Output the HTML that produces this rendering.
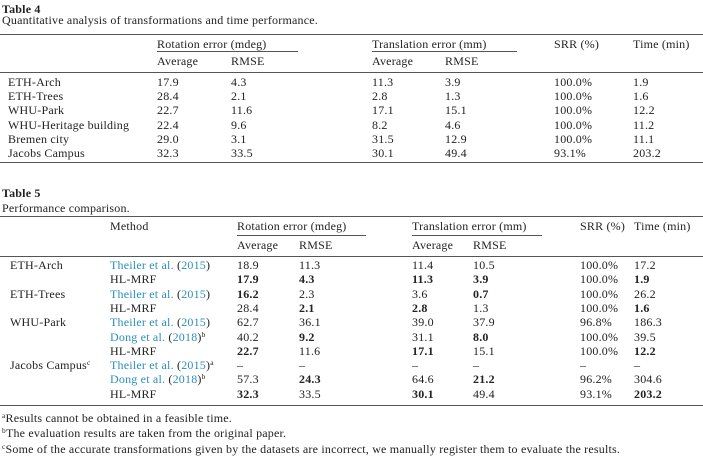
<!DOCTYPE html>
<html><head><meta charset="utf-8"><style>
body{margin:0;width:703px;height:463px;background:#fff;position:relative;overflow:hidden;font-family:"Liberation Serif",serif;font-size:12px;color:#222;letter-spacing:0.2px}
.t{position:absolute;line-height:14px;white-space:nowrap}
.b{font-weight:bold}
.l{color:#2a8fbd}
.r{position:absolute;height:1px;background:#555}
sup{font-size:7.5px;line-height:0;vertical-align:4px}
</style></head><body>
<div class="t b" style="left:2px;top:2px">Table 4</div>
<div class="t" style="left:2px;top:13px">Quantitative analysis of transformations and time performance.</div>
<div class="r" style="left:0;top:34px;width:703px"></div>
<div class="t" style="left:157px;top:37px">Rotation error (mdeg)</div>
<div class="t" style="left:372px;top:37px">Translation error (mm)</div>
<div class="t" style="left:554px;top:37px">SRR (%)</div>
<div class="t" style="left:633px;top:37px">Time (min)</div>
<div class="r" style="left:157px;top:51px;width:141px"></div>
<div class="r" style="left:372px;top:51px;width:145px"></div>
<div class="t" style="left:157px;top:54px">Average</div>
<div class="t" style="left:231px;top:54px">RMSE</div>
<div class="t" style="left:372px;top:54px">Average</div>
<div class="t" style="left:445px;top:54px">RMSE</div>
<div class="r" style="left:0;top:72px;width:703px"></div>
<div id="t4"></div>
<div class="r" style="left:0;top:162px;width:703px"></div>

<div class="t b" style="left:2px;top:186px">Table 5</div>
<div class="t" style="left:2px;top:201px">Performance comparison.</div>
<div class="r" style="left:0;top:216px;width:703px"></div>
<div class="t" style="left:110px;top:219px">Method</div>
<div class="t" style="left:237px;top:219px">Rotation error (mdeg)</div>
<div class="t" style="left:412px;top:219px">Translation error (mm)</div>
<div class="t" style="left:580px;top:219px">SRR (%)</div>
<div class="t" style="left:634px;top:219px">Time (min)</div>
<div class="r" style="left:237px;top:235px;width:129px"></div>
<div class="r" style="left:412px;top:235px;width:130px"></div>
<div class="t" style="left:237px;top:238px">Average</div>
<div class="t" style="left:299px;top:238px">RMSE</div>
<div class="t" style="left:412px;top:238px">Average</div>
<div class="t" style="left:473px;top:238px">RMSE</div>
<div class="r" style="left:0;top:256px;width:703px"></div>
<div id="t5"></div>
<div class="r" style="left:0;top:405px;width:703px"></div>
<div class="t" style="left:2px;top:411px"><sup>a</sup>Results cannot be obtained in a feasible time.</div>
<div class="t" style="left:2px;top:426px"><sup>b</sup>The evaluation results are taken from the original paper.</div>
<div class="t" style="left:2px;top:442px"><sup>c</sup>Some of the accurate transformations given by the datasets are incorrect, we manually register them to evaluate the results.</div>
<script>
var t4=[["ETH-Arch","17.9","4.3","11.3","3.9","100.0%","1.9"],["ETH-Trees","28.4","2.1","2.8","1.3","100.0%","1.6"],["WHU-Park","22.7","11.6","17.1","15.1","100.0%","12.2"],["WHU-Heritage building","22.4","9.6","8.2","4.6","100.0%","11.2"],["Bremen city","29.0","3.1","31.5","12.9","100.0%","11.1"],["Jacobs Campus","32.3","33.5","30.1","49.4","93.1%","203.2"]];
var x4=[8,157,231,372,445,554,633],h="";
t4.forEach(function(r,i){var y=75+i*14.2;r.forEach(function(c,j){h+='<div class="t" style="left:'+x4[j]+'px;top:'+y+'px">'+c+'</div>';});});
document.getElementById("t4").outerHTML=h;
var T='<span class="l">Theiler et al.</span> (<span class="l">2015</span>)',D='<span class="l">Dong et al.</span> (<span class="l">2018</span>)<sup>b</sup>';
var t5=[["ETH-Arch",T,"18.9","11.3","11.4","10.5","100.0%","17.2"],["","HL-MRF","*17.9","*4.3","*11.3","*3.9","100.0%","*1.9"],["ETH-Trees",T,"*16.2","2.3","3.6","*0.7","100.0%","26.2"],["","HL-MRF","28.4","*2.1","*2.8","1.3","100.0%","*1.6"],["WHU-Park",T,"62.7","36.1","39.0","37.9","96.8%","186.3"],["",D,"40.2","*9.2","31.1","*8.0","100.0%","39.5"],["","HL-MRF","*22.7","11.6","*17.1","15.1","100.0%","*12.2"],["Jacobs Campus<sup>c</sup>",T+"<sup>a</sup>","–","–","–","–","–","–"],["",D,"57.3","*24.3","64.6","*21.2","96.2%","304.6"],["","HL-MRF","*32.3","33.5","*30.1","49.4","93.1%","*203.2"]];
var x5=[10,110,237,299,412,473,580,634];h="";
t5.forEach(function(r,i){var y=258+i*14.3;r.forEach(function(c,j){var b=c.charAt(0)=="*";if(b)c=c.slice(1);h+='<div class="t'+(b?' b':'')+'" style="left:'+x5[j]+'px;top:'+y+'px">'+c+'</div>';});});
document.getElementById("t5").outerHTML=h;
</script>
</body></html>
